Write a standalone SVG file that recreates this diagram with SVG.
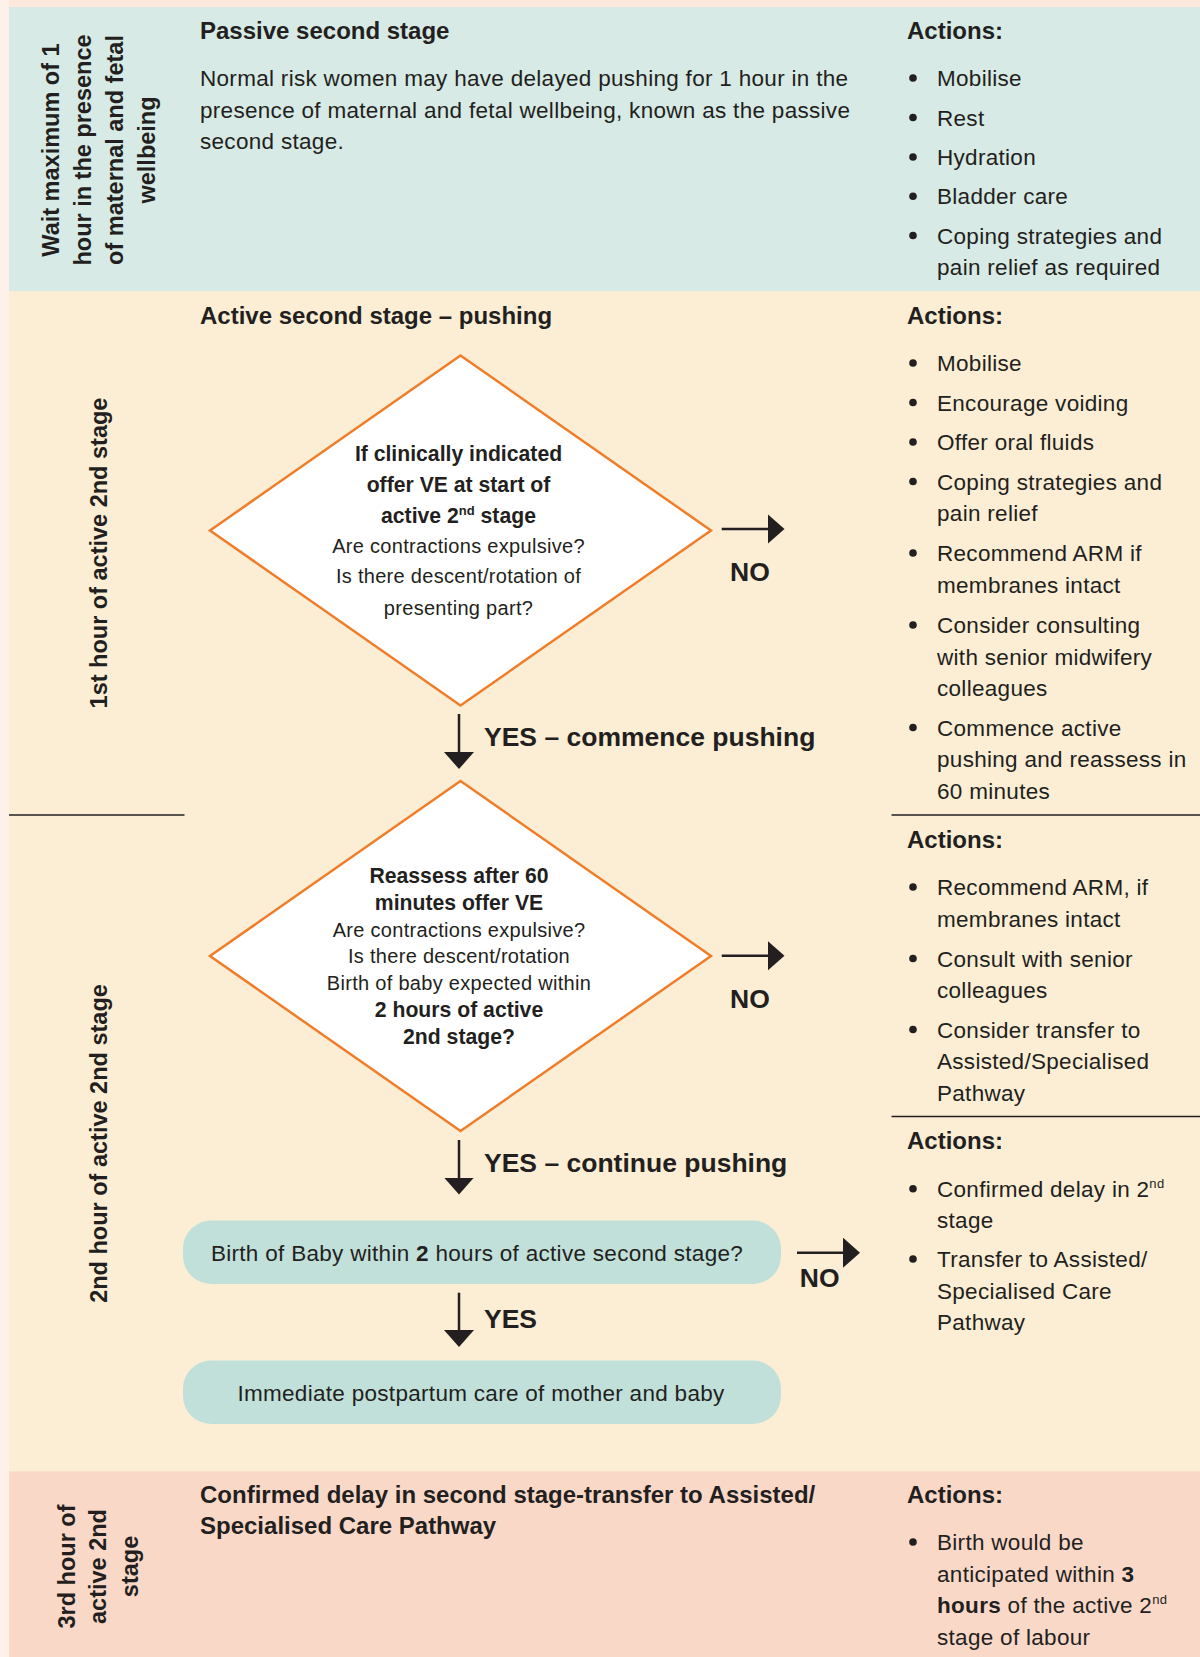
<svg xmlns="http://www.w3.org/2000/svg" width="1200" height="1657" viewBox="0 0 1200 1657">
<style>
text{font-family:"Liberation Sans",Arial,Helvetica,sans-serif;fill:#231f20}
.hd{font-size:24px;font-weight:bold}
.vl{font-size:23.5px;font-weight:bold;text-anchor:middle}
.bd{font-size:22.5px;letter-spacing:0.3px}
.dq{font-size:20px;letter-spacing:0.3px;text-anchor:middle}
.db{font-size:21.2px;font-weight:bold;text-anchor:middle}
.yn{font-size:26.5px;font-weight:bold}
.bx{font-size:22.5px;letter-spacing:0.3px;text-anchor:middle}
.sup{font-size:13px}
.dia{fill:#ffffff;stroke:#ef7d2a;stroke-width:2.5}
.pill{fill:#c1e0da}
.cn{stroke:#231f20;stroke-width:2.5;fill:none;marker-end:url(#ah)}
.rule{stroke:#231f20;stroke-width:1.5}
.bul{fill:#231f20}
</style>
<defs>
<marker id="ah" viewBox="0 0 17 30" refX="0.5" refY="15" markerWidth="17" markerHeight="30" markerUnits="userSpaceOnUse" orient="auto">
<path d="M0,0 L17,15 L0,30 Z" fill="#231f20"/>
</marker>
</defs>

<g id="background">
<rect x="0" y="0" width="1200" height="1657" fill="#fce8dc"/>
<rect x="0" y="0" width="9" height="1657" fill="#fdf1ea"/>
<rect x="9" y="7" width="1191" height="284" fill="#d7eae5"/>
<rect x="9" y="291" width="1191" height="1180.5" fill="#fbeed4"/>
<rect x="9" y="1471.5" width="1191" height="185.5" fill="#fad8c8"/>
<line class="rule" x1="9" y1="815" x2="184.5" y2="815"/>
<line class="rule" x1="891.5" y1="815" x2="1200" y2="815"/>
<line class="rule" x1="891.5" y1="1116.5" x2="1200" y2="1116.5"/>
</g>

<g id="stage-labels">
<text class="vl" transform="translate(59,150) rotate(-90)"><tspan x="0" y="0">Wait maximum of 1</tspan><tspan x="0" y="32">hour in the presence</tspan><tspan x="0" y="64">of maternal and fetal</tspan><tspan x="0" y="96">wellbeing</tspan></text>
<text class="vl" transform="translate(107,553) rotate(-90)">1st hour of active 2nd stage</text>
<text class="vl" transform="translate(107,1143.5) rotate(-90)">2nd hour of active 2nd stage</text>
<text class="vl" transform="translate(74.6,1566.5) rotate(-90)"><tspan x="0" y="0">3rd hour of</tspan><tspan x="0" y="31.6">active 2nd</tspan><tspan x="0" y="63.2">stage</tspan></text>
</g>

<g id="passive-stage">
<text class="hd" x="200" y="39">Passive second stage</text>
<text class="bd"><tspan x="200" y="86">Normal risk women may have delayed pushing for 1 hour in the</tspan><tspan x="200" y="117.5">presence of maternal and fetal wellbeing, known as the passive</tspan><tspan x="200" y="149">second stage.</tspan></text>
</g>

<g id="actions-passive">
<text class="hd" x="907" y="39">Actions:</text>
<circle class="bul" cx="913" cy="78" r="3.8"/><text class="bd" x="937" y="86">Mobilise</text>
<circle class="bul" cx="913" cy="117.5" r="3.8"/><text class="bd" x="937" y="125.5">Rest</text>
<circle class="bul" cx="913" cy="157" r="3.8"/><text class="bd" x="937" y="165">Hydration</text>
<circle class="bul" cx="913" cy="196.3" r="3.8"/><text class="bd" x="937" y="204.3">Bladder care</text>
<circle class="bul" cx="913" cy="235.5" r="3.8"/><text class="bd"><tspan x="937" y="243.5">Coping strategies and</tspan><tspan x="937" y="275">pain relief as required</tspan></text>
</g>

<g id="active-stage-header">
<text class="hd" x="200" y="324">Active second stage – pushing</text>
</g>

<g id="decision-1">
<polygon class="dia" points="460.5,355.5 711,530.5 460.5,705.5 210,530.5"/>
<text class="db" x="458.5" y="460.7">If clinically indicated</text>
<text class="db" x="458.5" y="491.8">offer VE at start of</text>
<text class="db" x="458.5" y="522.6">active 2<tspan class="sup" dy="-8">nd</tspan><tspan dy="8"> stage</tspan></text>
<text class="dq" x="458.5" y="552.7">Are contractions expulsive?</text>
<text class="dq" x="458.5" y="583.4">Is there descent/rotation of</text>
<text class="dq" x="458.5" y="614.5">presenting part?</text>
</g>

<g id="actions-first-hour">
<text class="hd" x="907" y="323.8">Actions:</text>
<circle class="bul" cx="913" cy="363" r="3.8"/><text class="bd" x="937" y="371">Mobilise</text>
<circle class="bul" cx="913" cy="402.5" r="3.8"/><text class="bd" x="937" y="410.5">Encourage voiding</text>
<circle class="bul" cx="913" cy="442" r="3.8"/><text class="bd" x="937" y="450">Offer oral fluids</text>
<circle class="bul" cx="913" cy="481.5" r="3.8"/><text class="bd"><tspan x="937" y="489.5">Coping strategies and</tspan><tspan x="937" y="521">pain relief</tspan></text>
<circle class="bul" cx="913" cy="553" r="3.8"/><text class="bd"><tspan x="937" y="561">Recommend ARM if</tspan><tspan x="937" y="592.5">membranes intact</tspan></text>
<circle class="bul" cx="913" cy="625" r="3.8"/><text class="bd"><tspan x="937" y="633">Consider consulting</tspan><tspan x="937" y="664.5">with senior midwifery</tspan><tspan x="937" y="696">colleagues</tspan></text>
<circle class="bul" cx="913" cy="727.5" r="3.8"/><text class="bd"><tspan x="937" y="735.5">Commence active</tspan><tspan x="937" y="767">pushing and reassess in</tspan><tspan x="937" y="798.5">60 minutes</tspan></text>
</g>

<g id="decision-2">
<polygon class="dia" points="460.5,781 711,956 460.5,1131 210,956"/>
<text class="db" x="459" y="882.7">Reassess after 60</text>
<text class="db" x="459" y="910">minutes offer VE</text>
<text class="dq" x="459" y="936.7">Are contractions expulsive?</text>
<text class="dq" x="459" y="963.3">Is there descent/rotation</text>
<text class="dq" x="459" y="990">Birth of baby expected within</text>
<text class="db" x="459" y="1017.3">2 hours of active</text>
<text class="db" x="459" y="1044.3">2nd stage?</text>
</g>

<g id="actions-second-hour">
<text class="hd" x="907" y="847.7">Actions:</text>
<circle class="bul" cx="913" cy="887" r="3.8"/><text class="bd"><tspan x="937" y="895">Recommend ARM, if</tspan><tspan x="937" y="926.5">membranes intact</tspan></text>
<circle class="bul" cx="913" cy="958.5" r="3.8"/><text class="bd"><tspan x="937" y="966.5">Consult with senior</tspan><tspan x="937" y="998">colleagues</tspan></text>
<circle class="bul" cx="913" cy="1029.5" r="3.8"/><text class="bd"><tspan x="937" y="1037.5">Consider transfer to</tspan><tspan x="937" y="1069">Assisted/Specialised</tspan><tspan x="937" y="1100.5">Pathway</tspan></text>
</g>

<g id="actions-delay">
<text class="hd" x="907" y="1149.3">Actions:</text>
<circle class="bul" cx="913" cy="1188.7" r="3.8"/><text class="bd"><tspan x="937" y="1196.7">Confirmed delay in 2</tspan><tspan class="sup" dy="-9">nd</tspan><tspan x="937" y="1228.3">stage</tspan></text>
<circle class="bul" cx="913" cy="1259" r="3.8"/><text class="bd"><tspan x="937" y="1267">Transfer to Assisted/</tspan><tspan x="937" y="1298.5">Specialised Care</tspan><tspan x="937" y="1330">Pathway</tspan></text>
</g>

<g id="birth-check">
<rect class="pill" x="183" y="1220.5" width="598" height="63.5" rx="28" ry="28"/>
<text class="bx" x="477" y="1261">Birth of Baby within <tspan font-weight="bold">2</tspan> hours of active second stage?</text>
</g>

<g id="postpartum-care">
<rect class="pill" x="183" y="1360.5" width="598" height="63.5" rx="28" ry="28"/>
<text class="bx" x="481" y="1401">Immediate postpartum care of mother and baby</text>
</g>

<g id="confirmed-delay">
<text class="hd"><tspan x="200" y="1503.3">Confirmed delay in second stage-transfer to Assisted/</tspan><tspan x="200" y="1534.3">Specialised Care Pathway</tspan></text>
</g>

<g id="actions-third-hour">
<text class="hd" x="907" y="1503.3">Actions:</text>
<circle class="bul" cx="913" cy="1542" r="3.8"/><text class="bd"><tspan x="937" y="1550">Birth would be</tspan><tspan x="937" y="1581.5">anticipated within <tspan font-weight="bold">3</tspan></tspan><tspan x="937" y="1613"><tspan font-weight="bold">hours</tspan> of the active 2</tspan><tspan class="sup" dy="-9">nd</tspan><tspan x="937" y="1644.5">stage of labour</tspan></text>
</g>

<g id="connectors">
<line class="cn" x1="459" y1="714" x2="459" y2="752.5"/>
<line class="cn" x1="721.7" y1="529" x2="768" y2="529"/>
<line class="cn" x1="721.7" y1="955.7" x2="768" y2="955.7"/>
<line class="cn" x1="459" y1="1140" x2="459" y2="1178"/>
<line class="cn" x1="797" y1="1252.7" x2="843.5" y2="1252.7"/>
<line class="cn" x1="459" y1="1292.7" x2="459" y2="1330.5"/>
<text class="yn" x="484" y="746.4">YES – commence pushing</text>
<text class="yn" x="730" y="580.7">NO</text>
<text class="yn" x="730" y="1008.3">NO</text>
<text class="yn" x="484" y="1171.7">YES – continue pushing</text>
<text class="yn" x="799.8" y="1287.3">NO</text>
<text class="yn" x="484" y="1328.3">YES</text>
</g>
</svg>
